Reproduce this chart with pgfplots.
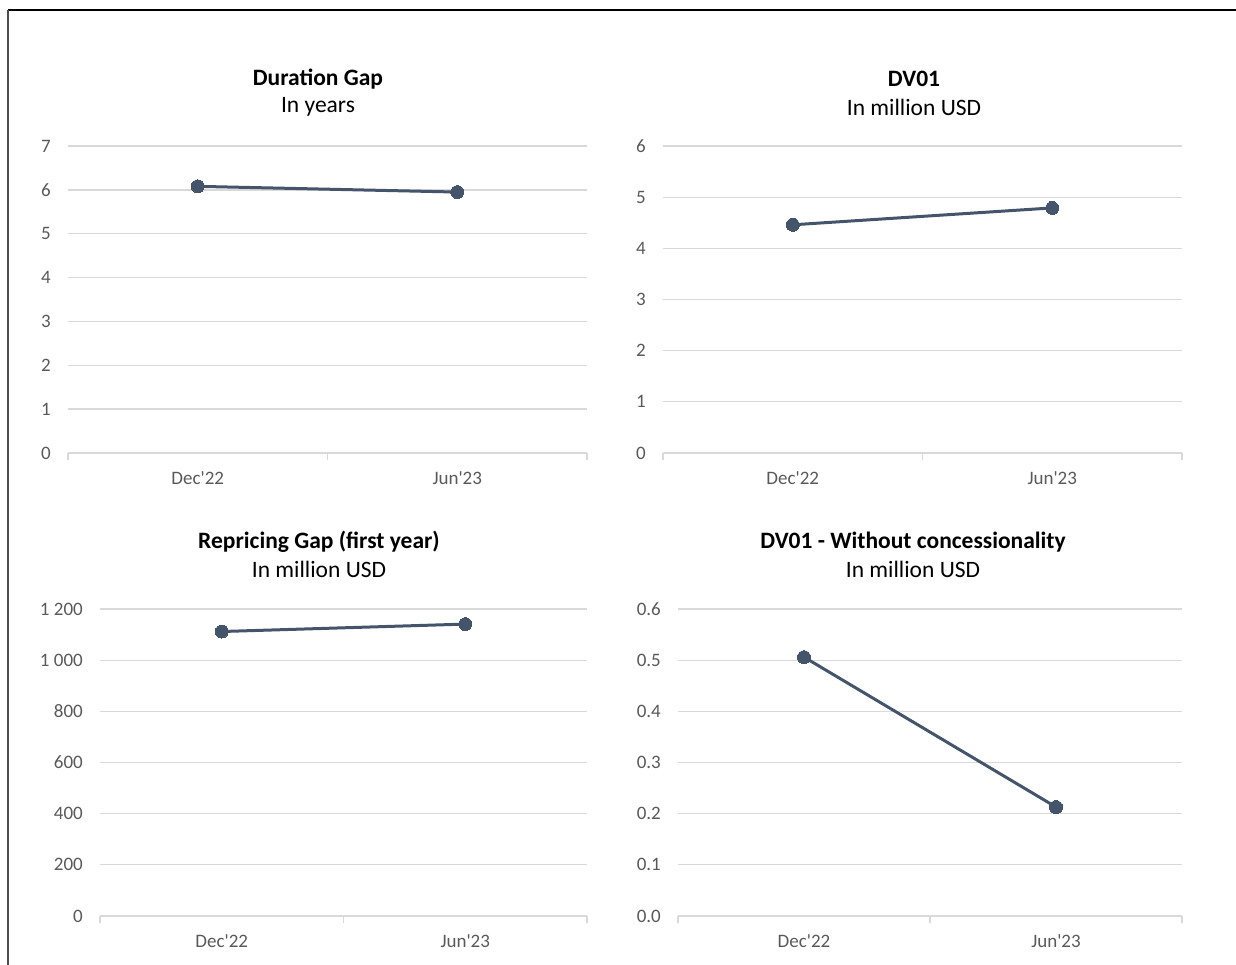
\documentclass[border=0pt]{standalone}
\usepackage{pgfplots}
\pgfplotsset{compat=1.18}
\usepackage{fontspec}
\setmainfont{Carlito}
\definecolor{linec}{HTML}{44546A}
\definecolor{gridc}{HTML}{D9D9D9}
\definecolor{tickc}{HTML}{595959}
\pgfplotsset{panel/.style={
  scale only axis, height=307pt, anchor=south west,
  xmin=-0.5, xmax=1.5, ymin=0,
  axis x line*=bottom, axis y line*=left,
  y axis line style={draw=none},
  x axis line style={gridc, line width=1.3pt},
  xtick={0,1}, xticklabels={Dec\textquotesingle22, Jun\textquotesingle23},
  minor xtick={-0.5,0.5,1.5},
  major tick length=0pt, minor tick length=7pt,
  tick align=outside,
  minor x tick style={gridc, line width=1.3pt},
  ymajorgrids, major grid style={gridc, line width=1.3pt},
  ytick style={draw=none},
  tick label style={font=\fontsize{19}{22}\selectfont, text=tickc},
  yticklabel style={anchor=east, inner sep=0pt, xshift=-17pt},
  xticklabel style={anchor=north, inner sep=0pt, yshift=-18pt},
  clip=false,
}}
\tikzset{ttl/.style={font=\bfseries\fontsize{23.5}{26}\selectfont, text=black},
         sub/.style={font=\fontsize{23.5}{26}\selectfont, text=black},
         ser/.style={linec, line width=3pt, mark=*, mark size=6.5pt, mark options={fill=linec, draw=linec, line width=0pt}}}
\begin{document}
\begin{tikzpicture}
\path[use as bounding box] (0,0) rectangle (1236pt,-965pt);
\draw[black, line width=2.2pt] (8pt,-10pt) -- (1240pt,-10pt);
\draw[black!70, line width=2pt] (8pt,-10pt) -- (8pt,-970pt);
\node[font=\bfseries\fontsize{30}{32}\selectfont, anchor=base] at (300pt,8.5pt) {g};

\node[ttl] at (318pt,-79pt) {Duration Gap};
\node[sub] at (318pt,-107pt) {In years};
\begin{axis}[panel, at={(68pt,-453pt)}, width=519pt, ymax=7,
  ytick={0,1,2,3,4,5,6,7}, yticklabels={0,1,2,3,4,5,6,7}]
\addplot[ser] coordinates {(0,6.08) (1,5.95)};
\end{axis}

\node[ttl] at (914pt,-79pt) {DV01};
\node[sub] at (914pt,-107pt) {In million USD};
\begin{axis}[panel, at={(663pt,-453pt)}, width=519pt, ymax=6,
  ytick={0,1,2,3,4,5,6}, yticklabels={0,1,2,3,4,5,6}]
\addplot[ser] coordinates {(0,4.46) (1,4.79)};
\end{axis}

\node[ttl] at (319pt,-542pt) {Repricing Gap (first year)};
\node[sub] at (319pt,-569pt) {In million USD};
\begin{axis}[panel, at={(100pt,-916pt)}, width=487pt, ymax=1200,
  ytick={0,200,400,600,800,1000,1200}, yticklabels={0,200,400,600,800,1 000,1 200}]
\addplot[ser] coordinates {(0,1112) (1,1141)};
\end{axis}

\node[ttl] at (913pt,-542pt) {DV01 - Without concessionality};
\node[sub] at (913pt,-569pt) {In million USD};
\begin{axis}[panel, at={(678pt,-916pt)}, width=504pt, ymax=0.6,
  ytick={0,0.1,0.2,0.3,0.4,0.5,0.6}, yticklabels={0.0,0.1,0.2,0.3,0.4,0.5,0.6}]
\addplot[ser] coordinates {(0,0.506) (1,0.213)};
\end{axis}
\end{tikzpicture}
\end{document}
